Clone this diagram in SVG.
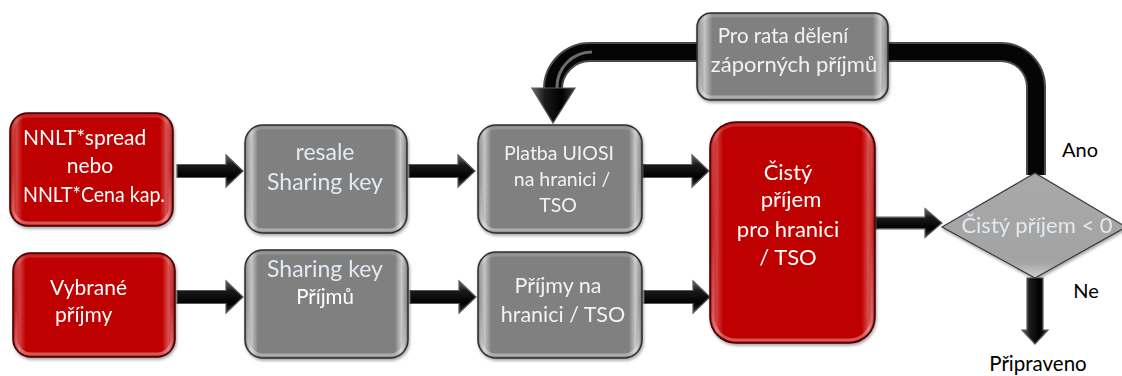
<svg xmlns="http://www.w3.org/2000/svg" width="1122" height="376" viewBox="0 0 1122 376">
  <defs>
    <style>
      .lbl { font-family: Lato, "Liberation Sans", sans-serif; text-anchor: middle; }
      .w { fill: #ffffff; font-size: 21px; }
      .g { fill: #f2f2f2; font-size: 20.5px; }
      .b { fill: #e2e9f1; font-size: 23px; }
      .k { fill: #000000; font-size: 20px; }
      .red { fill: url(#redFill); stroke: #3a0000; stroke-width: 1.5; }
      .grey { fill: url(#greyFill); stroke: #2f2f2f; stroke-width: 1.5; }
      .gloss { fill: none; stroke: url(#glossEdge); stroke-width: 3; }
      .arrow { fill: url(#arrowFill); stroke: #5a5a5a; stroke-width: 1.2; }
    </style>
    <linearGradient id="redFill" x1="0" y1="0" x2="1" y2="0">
      <stop offset="0" stop-color="#b80000"/>
      <stop offset="0.04" stop-color="#d24040"/>
      <stop offset="0.08" stop-color="#bf0000"/>
      <stop offset="0.92" stop-color="#bf0000"/>
      <stop offset="0.96" stop-color="#d85050"/>
      <stop offset="1" stop-color="#a80000"/>
    </linearGradient>
    <linearGradient id="greyFill" x1="0" y1="0" x2="1" y2="0">
      <stop offset="0" stop-color="#7a7a7a"/>
      <stop offset="0.04" stop-color="#c4c4c4"/>
      <stop offset="0.08" stop-color="#808080"/>
      <stop offset="0.92" stop-color="#808080"/>
      <stop offset="0.96" stop-color="#c8c8c8"/>
      <stop offset="1" stop-color="#707070"/>
    </linearGradient>
    <linearGradient id="diamondFill" x1="0" y1="0" x2="0" y2="1">
      <stop offset="0" stop-color="#a9a9a9"/>
      <stop offset="0.85" stop-color="#a3a3a3"/>
      <stop offset="1" stop-color="#d0d0d0"/>
    </linearGradient>
    <linearGradient id="glossEdge" x1="0" y1="0" x2="0" y2="1">
      <stop offset="0" stop-color="#ffffff" stop-opacity="0.15"/>
      <stop offset="0.5" stop-color="#ffffff" stop-opacity="0.05"/>
      <stop offset="1" stop-color="#ffffff" stop-opacity="0.35"/>
    </linearGradient>
    <linearGradient id="arrowFill" x1="0" y1="0" x2="0" y2="1">
      <stop offset="0" stop-color="#6a6a6a"/>
      <stop offset="0.3" stop-color="#1a1a1a"/>
      <stop offset="0.7" stop-color="#000000"/>
      <stop offset="1" stop-color="#3a3a3a"/>
    </linearGradient>
    <linearGradient id="downFill" x1="0" y1="0" x2="1" y2="0">
      <stop offset="0" stop-color="#6a6a6a"/>
      <stop offset="0.3" stop-color="#1a1a1a"/>
      <stop offset="0.7" stop-color="#000000"/>
      <stop offset="1" stop-color="#3a3a3a"/>
    </linearGradient>
    <filter id="shadow" x="-10%" y="-10%" width="125%" height="130%">
      <feDropShadow dx="1" dy="2" stdDeviation="1.5" flood-color="#000" flood-opacity="0.35"/>
    </filter>
    <!-- block arrow pointing right, tail at origin -->
    <path id="blockArrow" d="M0,-6.5 H49 V-16 L66,0 L49,16 V6.5 H0 Z"/>
  </defs>

  <rect width="1122" height="376" fill="#ffffff"/>

  <g id="connectors">
    <!-- feedback loop: decision -> pro rata -> UIOSI payment -->
    <path d="M1036,175 V87 A35,35 0 0 0 1001,52 H590 A37,37 0 0 0 553,89 V92" fill="none" stroke="#4a4a4a" stroke-width="20"/>
    <path d="M1036,175 V87 A35,35 0 0 0 1001,52 H590 A37,37 0 0 0 553,89 V92" fill="none" stroke="#050505" stroke-width="16"/>
    <path d="M592,52 A35,35 0 0 0 557,87 V92" fill="none" stroke="#9a9a9a" stroke-width="3" stroke-opacity="0.7"/>
    <path d="M532,88 H575 L553,123 Z" fill="url(#downFill)" stroke="#5a5a5a" stroke-width="1.2"/>

    <use href="#blockArrow" class="arrow" transform="translate(177,171)"/>
    <use href="#blockArrow" class="arrow" transform="translate(409,171)"/>
    <use href="#blockArrow" class="arrow" transform="translate(643,171)"/>
    <use href="#blockArrow" class="arrow" transform="translate(177,297)"/>
    <use href="#blockArrow" class="arrow" transform="translate(410,297)"/>
    <use href="#blockArrow" class="arrow" transform="translate(644,297)"/>
    <use href="#blockArrow" class="arrow" transform="translate(876,223) scale(1,0.9)"/>

    <!-- "Ne" branch -->
    <path d="M1027,278 V330 H1022 L1035,344 L1048,330 H1043 V278 Z" fill="url(#downFill)" stroke="#5a5a5a" stroke-width="1.2"/>
  </g>

  <g id="node-nnlt" filter="url(#shadow)">
    <rect class="red" x="10" y="113" width="163" height="113" rx="18"/>
    <rect class="gloss" x="13" y="116" width="157" height="107" rx="15"/>
    <text class="lbl w" x="23" y="145" style="text-anchor:start">NNLT*spread</text>
    <text class="lbl w" x="90" y="173">nebo</text>
    <text class="lbl w" x="23" y="202" style="text-anchor:start" textLength="142" lengthAdjust="spacingAndGlyphs">NNLT*Cena kap.</text>
  </g>

  <g id="node-resale" filter="url(#shadow)">
    <rect class="grey" x="245" y="125" width="162" height="108" rx="18"/>
    <rect class="gloss" x="248" y="128" width="156" height="102" rx="15"/>
    <text class="lbl b" x="325" y="160">resale</text>
    <text class="lbl b" x="325" y="190">Sharing key</text>
  </g>

  <g id="node-uiosi" filter="url(#shadow)">
    <rect class="grey" x="478" y="125" width="164" height="108" rx="18"/>
    <rect class="gloss" x="481" y="128" width="158" height="102" rx="15"/>
    <text class="lbl g" x="559" y="160" style="font-size:19.5px">Platba UIOSI</text>
    <text class="lbl g" x="562" y="186" style="font-size:19.5px">na hranici /</text>
    <text class="lbl g" x="558" y="212" style="font-size:19.5px">TSO</text>
  </g>

  <g id="node-vybrane" filter="url(#shadow)">
    <rect class="red" x="13" y="253" width="162" height="104" rx="18"/>
    <rect class="gloss" x="16" y="256" width="156" height="98" rx="15"/>
    <text class="lbl w" x="50" y="295" style="text-anchor:start">Vybrané</text>
    <text class="lbl w" x="55" y="322" style="text-anchor:start">příjmy</text>
  </g>

  <g id="node-sharing" filter="url(#shadow)">
    <rect class="grey" x="245" y="250" width="163" height="108" rx="18"/>
    <rect class="gloss" x="248" y="253" width="157" height="102" rx="15"/>
    <text class="lbl b" x="325" y="277">Sharing key</text>
    <text class="lbl w" x="325" y="304" style="font-size:20.5px">Příjmů</text>
  </g>

  <g id="node-prijmy" filter="url(#shadow)">
    <rect class="grey" x="478" y="252" width="164" height="106" rx="18"/>
    <rect class="gloss" x="481" y="255" width="158" height="100" rx="15"/>
    <text class="lbl g" x="558" y="293" style="font-size:21.5px">Příjmy na</text>
    <text class="lbl g" x="563" y="322" style="font-size:21.5px">hranici / TSO</text>
  </g>

  <g id="node-cisty" filter="url(#shadow)">
    <rect class="red" x="710" y="122" width="165" height="221" rx="26"/>
    <rect class="gloss" x="713" y="125" width="159" height="215" rx="23"/>
    <text class="lbl w" x="788" y="180" style="font-size:22px">Čistý</text>
    <text class="lbl w" x="791" y="207" style="font-size:22px">příjem</text>
    <text class="lbl w" x="788" y="237" style="font-size:22px">pro hranici</text>
    <text class="lbl w" x="788" y="265" style="font-size:22px">/ TSO</text>
  </g>

  <g id="node-prorata" filter="url(#shadow)">
    <rect class="grey" x="697" y="13" width="191" height="87" rx="14"/>
    <rect class="gloss" x="700" y="16" width="185" height="81" rx="11"/>
    <text class="lbl g" x="783" y="43">Pro rata dělení</text>
    <text class="lbl g" x="794" y="72" style="font-size:22px">záporných příjmů</text>
  </g>

  <g id="node-decision" filter="url(#shadow)">
    <path d="M942,227 L1035,173 L1126,227 L1035,278 Z" fill="url(#diamondFill)" stroke="#3a3a3a" stroke-width="1.2"/>
    <text class="lbl b" x="1037" y="233" style="font-size:22px">Čistý příjem &lt; 0</text>
  </g>

  <g id="labels">
    <text class="lbl k" x="1080" y="157">Ano</text>
    <text class="lbl k" x="1086" y="298">Ne</text>
    <text class="lbl k" x="1038" y="371" style="font-size:20.5px">Připraveno</text>
  </g>
</svg>
